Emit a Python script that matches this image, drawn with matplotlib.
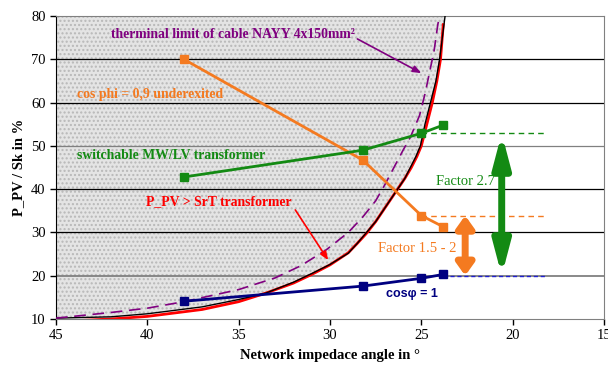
import matplotlib.pyplot as plt
import numpy as np

# angles of the PV variants (deg) and hosting capacity P_PV/Sk (%)
ang = [38, 28.2, 25, 23.8]
cosphi09 = [70, 46.7, 33.9, 31.3]
switchable = [42.8, 49.0, 52.9, 54.8]
cosphi1 = [14.1, 17.6, 19.4, 20.3]

# boundary curve (black) and P_PV > SrT transformer (red)
bnd_x = [45, 42, 40, 37, 35, 33.5, 32, 31, 30, 29, 28.5, 28.0, 27.5, 27.1, 26.7, 26.3,
         25.9, 25.6, 25.3, 25.05, 24.8, 24.5, 24.2, 24.0, 23.85, 23.7]
bnd_y = [10.2, 10.5, 11.2, 12.8, 14.5, 16.0, 18.5, 20.5, 22.6, 25.2, 27.5, 30, 32.5, 35, 37.5, 40,
         42.5, 45, 47.5, 50, 55, 60, 65, 70, 75, 80]
red_x = [43.5, 42, 40, 37, 35, 33.5, 32, 31, 30, 29, 28.5, 28.0, 27.5, 27.1, 26.7, 26.3,
         25.9, 25.55, 25.25, 25.0, 24.7, 24.4, 24.15, 23.95, 23.8]
red_y = [9.7, 10.0, 10.6, 12.2, 14.0, 16.0, 18.3, 20.3, 22.5, 25.3, 27.5, 29.8, 32.5, 35, 37.5, 40,
         42.5, 45, 47.5, 50, 55, 60, 65, 70, 78]
# thermal limit of cable (purple dashed)
th_x = [45, 42, 40, 38, 35, 33, 31.6, 30.2, 29, 28.2, 27.5, 27, 26.5, 26, 25.6, 25.1, 24.8, 24.5, 24.3, 24.1, 24.0]
th_y = [10.2, 11.5, 12.5, 14.0, 16.8, 19.5, 22.3, 26.0, 30.0, 33.6, 37.3, 41, 45, 49, 52, 57, 62, 68, 72, 78, 80]

orange = '#F47A20'
green = '#138A13'
navy = '#000080'
purple = '#800080'

plt.rcParams['font.family'] = ['Liberation Serif', 'DejaVu Serif']
fig = plt.figure(figsize=(6.08, 3.69), dpi=100)
ax = fig.add_axes([56/608, 1-319/369, 548/608, 303/369])
ax.set_xlim(45, 15)
ax.set_ylim(10, 80)

# hatched area left of the boundary
ax.fill_betweenx(bnd_y, 45, bnd_x, facecolor='#e4e4e4', edgecolor='#b8b8b8',
                 hatch='....', lw=0, zorder=0)

for v in [30, 40, 60, 70]:
    ax.axhline(v, color='black', lw=0.9, zorder=1)
for v in [20, 50]:
    ax.axhline(v, color='#808080', lw=1.3 if v == 20 else 0.9, zorder=1)

ax.plot(bnd_x, bnd_y, color='black', lw=1.0, zorder=3)
ax.plot(red_x, red_y, color='red', lw=2.0, zorder=2)
ax.plot(th_x, th_y, color=purple, lw=1.2, ls=(0, (7, 4)), zorder=3)

ax.plot(ang, cosphi09, color=orange, lw=2, marker='s', ms=6, zorder=4)
ax.plot(ang, switchable, color=green, lw=2, marker='s', ms=6, zorder=4)
ax.plot(ang, cosphi1, color=navy, lw=2, marker='s', ms=6, zorder=4)

# dashed reference levels
ax.plot([25, 18.2], [switchable[2]] * 2, color=green, lw=1, ls=(0, (4, 3)))
ax.plot([25, 18.2], [cosphi09[2]] * 2, color=orange, lw=1, ls=(0, (4, 3)))
ax.plot([23.8, 18.2], [20, 20], color='#2020d0', lw=1, ls=(0, (3, 2)))

# factor arrows
ax.annotate('', xy=(20.6, 20), xytext=(20.6, switchable[2]),
            arrowprops=dict(arrowstyle='<|-|>,head_length=1.9,head_width=0.5',
                            color=green, lw=5, shrinkA=0, shrinkB=0))
ax.annotate('', xy=(22.6, 20), xytext=(22.6, cosphi09[2]),
            arrowprops=dict(arrowstyle='<|-|>,head_length=0.7,head_width=0.5',
                            color=orange, lw=5, shrinkA=0, shrinkB=0))
ax.text(22.6, 41.7, 'Factor 2.7', color=green, fontsize=10.5, ha='center', va='center')
ax.text(25.2, 26.2, 'Factor 1.5 - 2', color=orange, fontsize=10.5, ha='center', va='center')
ax.text(25.5, 15.8, 'cosφ = 1', color=navy, fontsize=9, fontweight='bold',
        family=['Liberation Sans', 'DejaVu Sans'], ha='center', va='center')

ax.text(42.0, 75.8, 'therminal limit of cable NAYY 4x150mm²', color=purple,
        fontsize=9.9, fontweight='bold', va='center')
ax.annotate('', xy=(25.0, 66.8), xytext=(28.5, 74.7),
            arrowprops=dict(arrowstyle='-|>,head_length=0.5,head_width=0.2',
                            color=purple, lw=1.2, shrinkA=0, shrinkB=0))
ax.text(43.85, 61.8, 'cos phi = 0,9 underexited', color=orange,
        fontsize=9.9, fontweight='bold', va='center')
ax.text(43.85, 47.7, 'switchable MW/LV transformer', color=green,
        fontsize=9.9, fontweight='bold', va='center')
ax.text(40.1, 37.1, 'P_PV > SrT transformer', color='red',
        fontsize=9.9, fontweight='bold', va='center')
ax.annotate('', xy=(30.1, 23.6), xytext=(31.9, 35.2),
            arrowprops=dict(arrowstyle='-|>,head_length=0.5,head_width=0.2',
                            color='red', lw=1.2, shrinkA=0, shrinkB=0))

ax.set_xticks([45, 40, 35, 30, 25, 20, 15])
ax.set_yticks([10, 20, 30, 40, 50, 60, 70, 80])
ax.tick_params(labelsize=10.5, direction='out', length=4, width=1)
for s in ['top', 'right', 'bottom']:
    ax.spines[s].set_color('#808080')
ax.spines['left'].set_color('black')
ax.set_xlabel('Network impedace angle in °', fontsize=10.5, fontweight='bold', labelpad=5)
ax.set_ylabel('P_PV / Sk in %', fontsize=10.5, fontweight='bold', labelpad=4)

fig.savefig('out.png', dpi=100)
